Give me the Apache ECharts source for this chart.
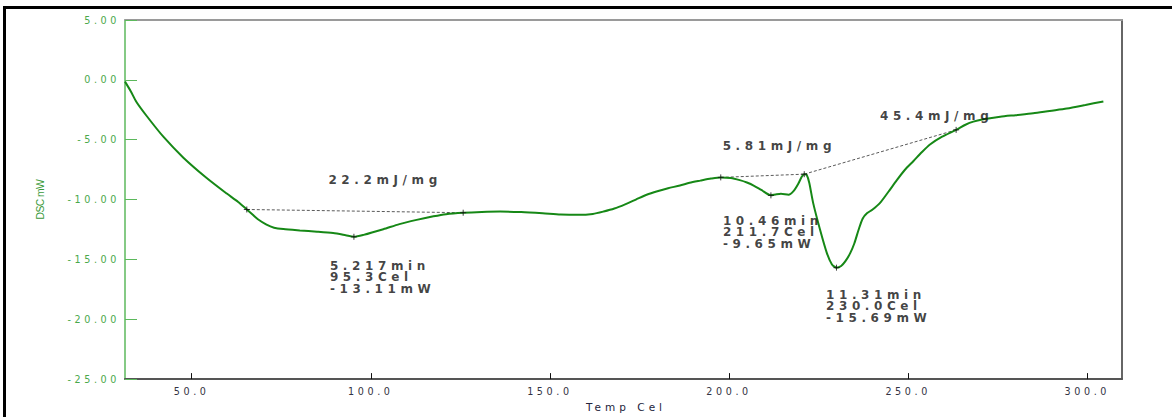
<!DOCTYPE html>
<html>
<head>
<meta charset="utf-8">
<script src="https://cdn.jsdelivr.net/npm/echarts@6/dist/echarts.min.js"></script>
<style>
  html, body { margin: 0; padding: 0; background: #fff; }
  #frame {
    position: absolute; left: 3px; top: 6px; width: 1200px; height: 440px;
    border-top: 3px solid #000; border-left: 3px solid #000; box-sizing: border-box;
  }
  #chart { position: absolute; left: 0; top: 0; width: 1172px; height: 417px; }
  /* instrument-style lettering (SVG text picks up CSS letter-spacing) */
  #chart text[style*="12px"] { letter-spacing: 4.6px; }
  #chart text[style*="9.6px"] { letter-spacing: 3.6px; }
  #chart text[style*="10.5px"] { letter-spacing: 4px; }
  #chart text[style*="10.4px"] { letter-spacing: -0.6px; }
</style>
</head>
<body>
<div id="frame"></div>
<div id="chart"></div>
<script>
// DSC heat-flow trace: temperature (Cel) and signal (mW)
const temps = [
  31.4, 33.0, 34.6, 37.4, 42.1, 47.7, 54.2, 59.8, 63.0, 65.4, 67.0, 68.5, 70.9, 73.0, 75.6,
  80.2, 85.0, 89.5, 93.0, 95.3, 98.0, 103.5, 108.0, 112.8, 117.5, 121.0, 125.8, 131.0, 136.1,
  142.0, 148.0, 153.0, 158.0, 162.0, 165.0, 168.0, 171.0, 174.0, 177.0, 180.0, 183.0, 186.3,
  189.0, 192.0, 195.0, 197.7, 200.5, 203.0, 205.0, 207.0, 209.0, 211.7, 213.0, 214.5, 216.6,
  218.0, 219.3, 220.3, 221.0, 221.7, 222.4, 223.5, 225.4, 227.3, 228.7, 230.0, 231.3, 232.5,
  233.8, 235.0, 236.2, 237.3, 238.5, 240.0, 242.1, 244.5, 246.8, 249.0, 251.5, 253.8, 256.1,
  259.5, 263.4, 266.0, 268.2, 271.0, 275.7, 280.0, 284.9, 289.5, 294.3, 299.5, 304.5
];
const dscMw = [
  -0.15, -0.95, -1.85, -3.0, -4.75, -6.5, -8.2, -9.5, -10.2, -10.83, -11.25, -11.65, -12.1, -12.35, -12.47,
  -12.58, -12.68, -12.8, -12.98, -13.11, -12.95, -12.48, -12.05, -11.7, -11.4, -11.22, -11.1, -11.03, -11.0,
  -11.05, -11.15, -11.25, -11.28, -11.2, -11.0, -10.75, -10.4, -10.0, -9.6, -9.3, -9.05, -8.83,
  -8.6, -8.42, -8.25, -8.15, -8.2, -8.38, -8.58, -8.85, -9.2, -9.65, -9.58, -9.52, -9.6,
  -9.3, -8.7, -8.1, -7.88, -7.95, -8.6, -10.3, -12.5, -14.45, -15.4, -15.69, -15.55, -15.15,
  -14.5, -13.65, -12.5, -11.6, -11.15, -10.85, -10.3, -9.35, -8.4, -7.55, -6.78, -6.05, -5.4,
  -4.75, -4.18, -3.75, -3.49, -3.3, -3.08, -2.95, -2.8, -2.6, -2.4, -2.1, -1.8
];

// integration limits and peak points marked with "+"
const markTemps = [65.4, 95.3, 125.8, 197.7, 211.7, 221.0, 230.0, 263.4];
const markVals  = [-10.83, -13.11, -11.1, -8.15, -9.65, -7.88, -15.69, -4.18];

// integration baselines: [start index, end index] into the mark arrays
const baselineSpans = [[0, 2], [3, 5], [5, 7]];
const enthalpies = ['22.2', '5.81', '45.4'];   // mJ/mg, one per baseline

// peak reports
const peakTimes = ['5.217', '10.46', '11.31'];
const peakTemps = [95.3, 211.7, 230.0];
const peakVals  = [-13.11, -9.65, -15.69];

// axes
const tempMin = 31.4, tempMax = 309.7;
const xTicks = [50, 100, 150, 200, 250, 300];

const noteStyle = {
  show: true, fontFamily: 'DejaVu Sans', fontWeight: 'bold', fontSize: 12,
  color: '#111', lineHeight: 11.6, align: 'left'
};
const peakOffsets = [[-24, 23], [-48, 19.5], [-10.5, 21.3]];
const enthalpyOffsets = [[81.6, -35.3], [1.9, -36.8], [75.7, -64.3]];

const chart = echarts.init(document.getElementById('chart'), null, { renderer: 'svg' });

const series = [{
  name: 'DSC', type: 'line', xAxisIndex: 0, yAxisIndex: 0,
  data: temps.map((t, i) => [t, dscMw[i]]),
  symbol: 'none', smooth: 0.25, silent: true,
  lineStyle: { color: '#168816', width: 2 }, z: 3
}];

baselineSpans.forEach(([a, b], k) => {
  series.push({
    name: 'baseline' + (k + 1), type: 'line', symbol: 'none', silent: true,
    data: [[markTemps[a], markVals[a]], [markTemps[b], markVals[b]]],
    lineStyle: { color: '#5a5a5a', width: 1, type: [3, 2] }, z: 2
  });
});

series.push({
  name: 'marks', type: 'scatter', silent: true, z: 4,
  data: markTemps.map((t, i) => [t, markVals[i]]),
  symbol: 'path://M0,5L10,5M5,0L5,10', symbolSize: 6,
  itemStyle: { color: 'rgba(0,0,0,0)', borderColor: '#111', borderWidth: 1 }
});

series.push({
  name: 'peakNotes', type: 'scatter', silent: true, symbolSize: 0, z: 5,
  data: peakTemps.map((t, i) => ({
    value: [t, peakVals[i]],
    label: Object.assign({}, noteStyle, {
      position: peakOffsets[i], verticalAlign: 'top',
      formatter: peakTimes[i] + 'min\n' + t.toFixed(1) + 'Cel\n' + peakVals[i].toFixed(2) + 'mW'
    })
  }))
});

series.push({
  name: 'enthalpyNotes', type: 'scatter', silent: true, symbolSize: 0, z: 5,
  data: baselineSpans.map(([a], i) => ({
    value: [markTemps[a], markVals[a]],
    label: Object.assign({}, noteStyle, {
      position: enthalpyOffsets[i], verticalAlign: 'top',
      formatter: enthalpies[i] + 'mJ/mg'
    })
  }))
});

chart.setOption({
  animation: false,
  backgroundColor: 'transparent',
  grid: { left: 125, top: 20, right: 50, bottom: 32 },
  xAxis: [{
    type: 'value', min: tempMin, max: tempMax, position: 'bottom',
    name: 'Temp Cel', nameLocation: 'middle', nameGap: 12.5,
    nameTextStyle: { fontFamily: 'DejaVu Sans', fontSize: 10.5, color: '#24243c', padding: [0, 0, 0, 5] },
    axisLine: { show: true, onZero: false, lineStyle: { color: '#555', width: 2 } },
    axisTick: { show: true, inside: true, length: 6, customValues: xTicks, lineStyle: { color: '#111', width: 1 } },
    axisLabel: { customValues: xTicks, formatter: v => v.toFixed(1), fontFamily: 'DejaVu Sans', fontSize: 9.6, color: '#333344', margin: 7 },
    splitLine: { show: false }
  }, {
    type: 'value', min: tempMin, max: tempMax, position: 'top',
    axisLine: { show: true, onZero: false, lineStyle: { color: '#9a9a9a', width: 2 } },
    axisTick: { show: false }, axisLabel: { show: false }, splitLine: { show: false }
  }],
  yAxis: [{
    type: 'value', min: -25, max: 5, interval: 5,
    name: 'DSC mW', nameLocation: 'middle', nameGap: 80,
    nameTextStyle: { fontFamily: 'Liberation Sans', fontSize: 10.4, color: '#3a9a3a' },
    axisLine: { show: true, onZero: false, lineStyle: { color: '#5cb85c', width: 1.5 } },
    axisTick: { show: true, inside: true, length: 12, lineStyle: { color: '#5cb85c', width: 1 } },
    axisLabel: { formatter: v => v.toFixed(2), fontFamily: 'DejaVu Sans', fontSize: 9.6, color: '#4aa84a', margin: 5 },
    splitLine: { show: false }
  }, {
    type: 'value', min: -25, max: 5, interval: 5, position: 'right',
    axisLine: { show: true, onZero: false, lineStyle: { color: '#666', width: 2 } },
    axisTick: { show: false }, axisLabel: { show: false }, splitLine: { show: false }
  }],
  series: series
});
</script>
</body>
</html>
